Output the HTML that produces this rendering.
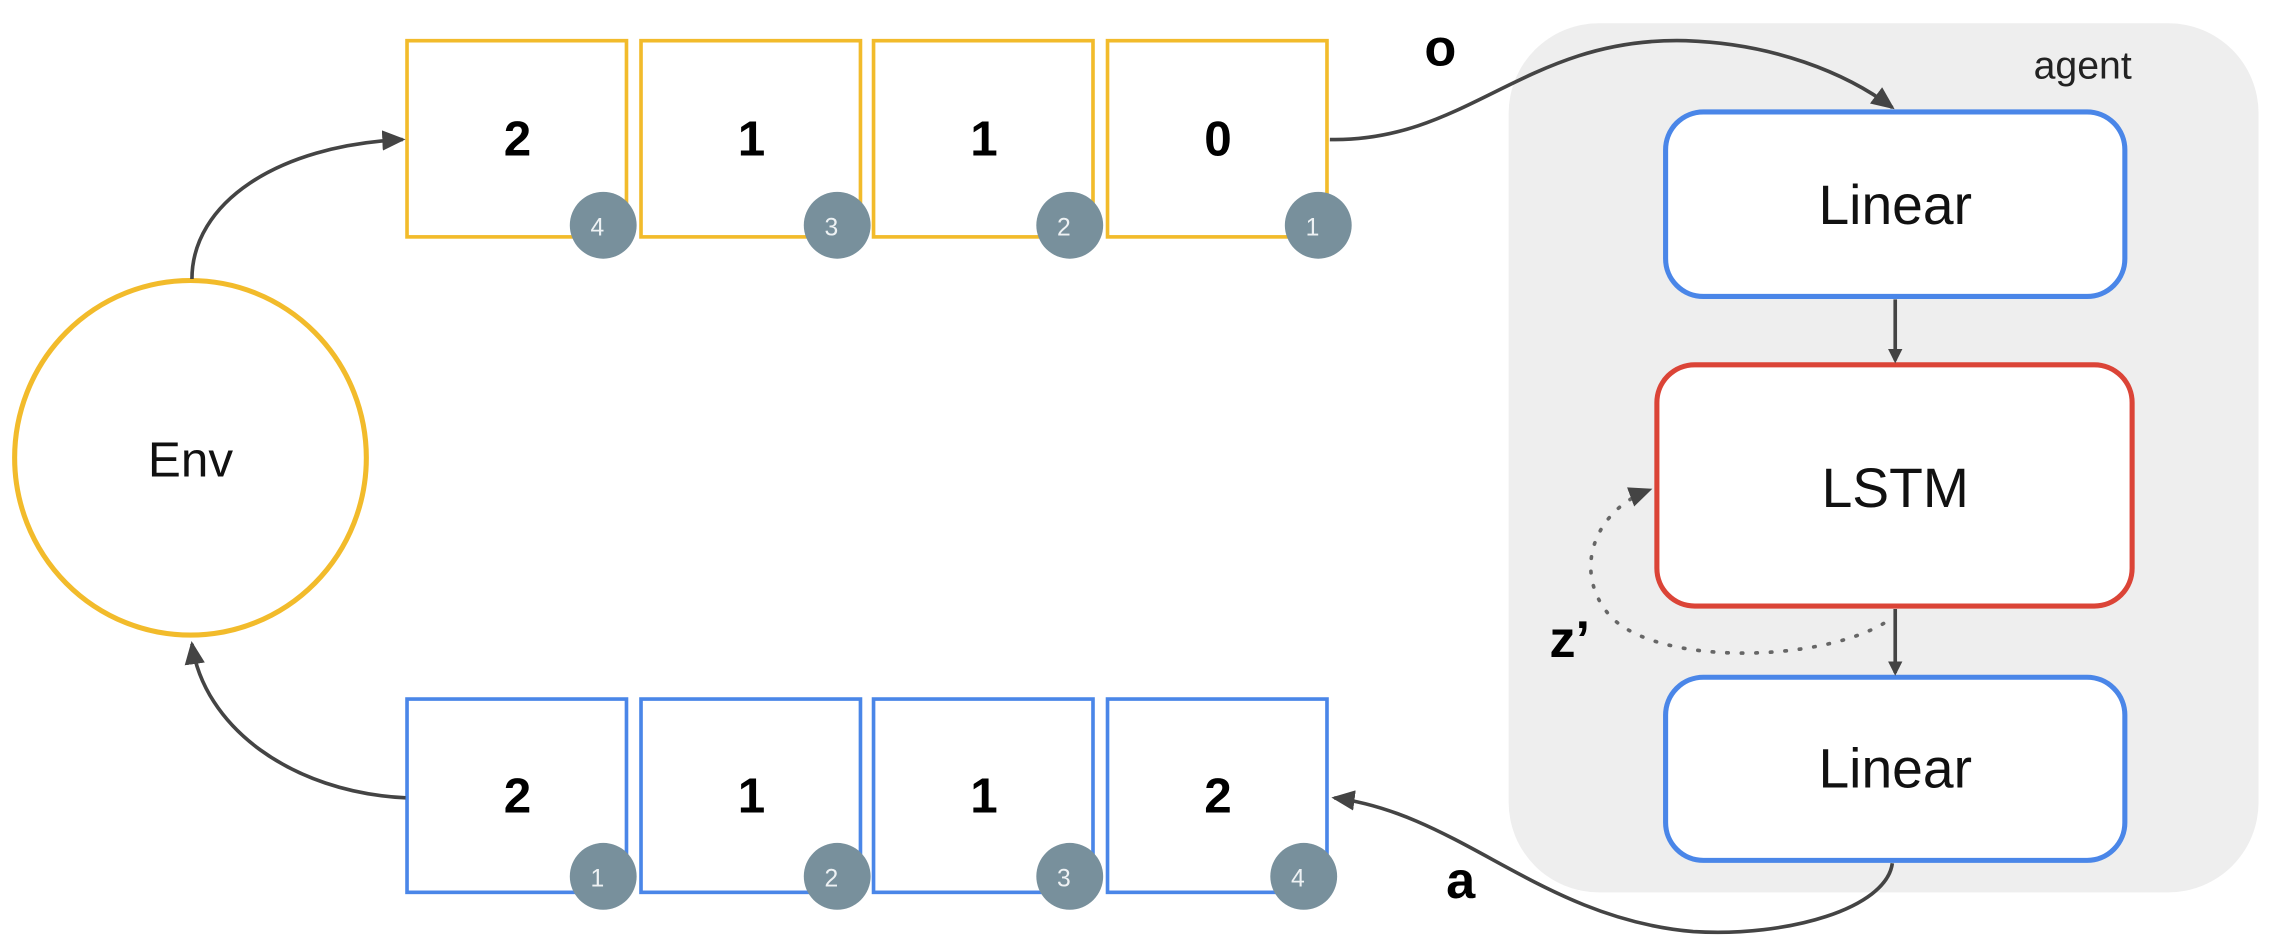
<!DOCTYPE html>
<html><head><meta charset="utf-8"><style>
html,body{margin:0;padding:0;background:#fff;}
svg{display:block;}
text{font-family:"Liberation Sans",sans-serif;}
</style></head><body>
<svg width="2279" height="948" viewBox="0 0 1568 652.3" xmlns="http://www.w3.org/2000/svg">
<defs>
<marker id="ah" markerWidth="10" markerHeight="10" refX="8" refY="5" orient="auto" markerUnits="userSpaceOnUse">
<path d="M0,0 L10,5 L0,10 Z" fill="#444"/></marker>
<marker id="ah2" markerWidth="16" markerHeight="14" refX="14" refY="7" orient="auto" markerUnits="userSpaceOnUse">
<path d="M0,0 L16,7 L0,14 Z" fill="#444"/></marker>
</defs>
<rect x="1038" y="16" width="516" height="598" rx="62" fill="#eeeeee"/>
<text x="1433" y="54" font-size="27" text-anchor="middle" fill="#222">agent</text>

<!-- top boxes -->
<g fill="#fff" stroke="#F2BB2B" stroke-width="2.5">
<rect x="280" y="28" width="151" height="135"/>
<rect x="441" y="28" width="151" height="135"/>
<rect x="601" y="28" width="151" height="135"/>
<rect x="762" y="28" width="151" height="135"/>
</g>
<g font-size="34" font-weight="bold" text-anchor="middle" fill="#000">
<text x="356" y="107">2</text><text x="517" y="107">1</text><text x="677" y="107">1</text><text x="838" y="107">0</text>
</g>
<!-- bottom boxes -->
<g fill="#fff" stroke="#4A86E8" stroke-width="2.5">
<rect x="280" y="481" width="151" height="133"/>
<rect x="441" y="481" width="151" height="133"/>
<rect x="601" y="481" width="151" height="133"/>
<rect x="762" y="481" width="151" height="133"/>
</g>
<g font-size="34" font-weight="bold" text-anchor="middle" fill="#000">
<text x="356" y="559">2</text><text x="517" y="559">1</text><text x="677" y="559">1</text><text x="838" y="559">2</text>
</g>
<!-- badges -->
<g fill="#78909C">
<circle cx="415" cy="155" r="23"/><circle cx="576" cy="155" r="23"/><circle cx="736" cy="155" r="23"/><circle cx="907" cy="155" r="23"/>
<circle cx="415" cy="603" r="23"/><circle cx="576" cy="603" r="23"/><circle cx="736" cy="603" r="23"/><circle cx="897" cy="603" r="23"/>
</g>
<g font-size="17" text-anchor="middle" fill="#eef2f4">
<text x="411" y="162">4</text><text x="572" y="162">3</text><text x="732" y="162">2</text><text x="903" y="162">1</text>
<text x="411" y="610">1</text><text x="572" y="610">2</text><text x="732" y="610">3</text><text x="893" y="610">4</text>
</g>

<!-- Env -->
<ellipse cx="131" cy="315" rx="121" ry="122" fill="#fff" stroke="#F2BB2B" stroke-width="3.5"/>
<text x="131" y="328" font-size="34" text-anchor="middle" fill="#111">Env</text>

<!-- agent nodes -->
<rect x="1146" y="77" width="316" height="127" rx="26" fill="#fff" stroke="#4A86E8" stroke-width="3.5"/>
<text x="1304" y="154" font-size="38" text-anchor="middle" fill="#111">Linear</text>
<rect x="1140" y="251" width="327" height="166" rx="26" fill="#fff" stroke="#DB4437" stroke-width="3.5"/>
<text x="1304" y="349" font-size="38" text-anchor="middle" fill="#111">LSTM</text>
<rect x="1146" y="466" width="316" height="126" rx="26" fill="#fff" stroke="#4A86E8" stroke-width="3.5"/>
<text x="1304" y="542" font-size="38" text-anchor="middle" fill="#111">Linear</text>

<!-- arrows -->
<g fill="none" stroke="#444" stroke-width="2.5">
<path d="M1304,206 L1304,248" marker-end="url(#ah)"/>
<path d="M1304,419 L1304,463" marker-end="url(#ah)"/>
<path d="M132,192 C132,140 190,100 277,96" marker-end="url(#ah2)"/>
<path d="M279,549 C200,545 140,500 132,443" marker-end="url(#ah2)"/>
<path d="M915,96 C1010,98 1050,25 1160,28 C1220,30 1270,50 1302,74" marker-end="url(#ah2)"/>
<path d="M1302,594 C1298,625 1230,645 1165,641 C1060,632 1005,560 918,549" marker-end="url(#ah2)"/>
<path d="M1296,429 C1250,456 1140,458 1108,424 C1082,395 1095,352 1135,337" stroke="#666" stroke-width="2.5" stroke-dasharray="1 9" stroke-linecap="round" marker-end="url(#ah2)"/>
</g>

<g font-weight="bold" fill="#000" text-anchor="middle">
<text x="991" y="45" font-size="36">o</text>
<text x="1005" y="618" font-size="36">a</text>
<text x="1080" y="452" font-size="36">z’</text>
</g>
</svg>
</body></html>
